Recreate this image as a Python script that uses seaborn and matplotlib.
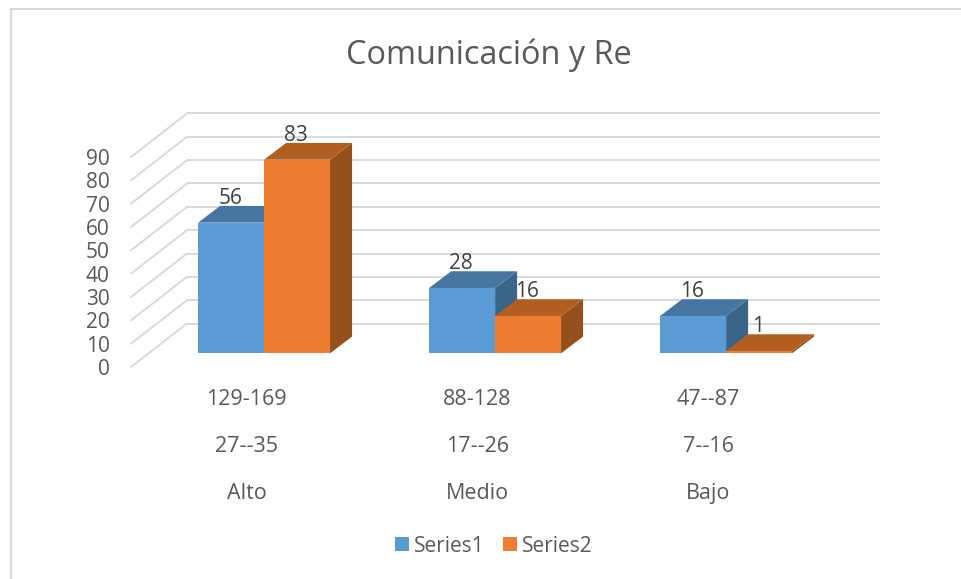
import matplotlib
matplotlib.use("Agg")
import matplotlib.pyplot as plt
import pandas as pd
import seaborn as sns
from matplotlib.lines import Line2D
from matplotlib.patches import Polygon
from matplotlib.transforms import Affine2D

rangos_a = ["129-169", "88-128", "47--87"]
rangos_b = ["27--35", "17--26", "7--16"]
niveles = ["Alto", "Medio", "Bajo"]
series1 = [56, 28, 16]
series2 = [83, 16, 1]
serie_names = ["Series1", "Series2"]
titulo = "Comunicación y Re"
y_ticks = list(range(0, 100, 10))

W, H = 962, 579
FONT = "Open Sans"
GREY = "#d9d9d9"
TXT = "#595959"
COLORS = ["#5B9BD5", "#ED7D31"]
TOPS = ["#4675A1", "#B35E21"]
SIDES = ["#3A6488", "#96501C"]

sns.set_theme(style="white")
plt.rcParams["font.family"] = [FONT, "DejaVu Sans"]

fig = plt.figure(figsize=(W / 100, H / 100), dpi=100, facecolor="white")
ax = fig.add_axes([131 / W, 1 - 367 / H, 693 / W, 210 / H])

cats = ["\n".join(t) for t in zip(rangos_a, rangos_b, niveles)]
df = pd.DataFrame({
    "cat": cats * 2,
    "serie": [serie_names[0]] * 3 + [serie_names[1]] * 3,
    "valor": series1 + series2,
})
sns.barplot(data=df, x="cat", y="valor", hue="serie", palette=COLORS,
            width=0.571, gap=0, saturation=1, dodge=True, ax=ax, linewidth=0)
ax.set_xlim(-0.5, 2.5)
ax.set_ylim(0, 90)
ax.set_xlabel("")
ax.set_ylabel("")
ax.set_yticks(y_ticks)
sns.despine(ax=ax, left=True, bottom=True, top=True, right=True)
ax.patch.set_alpha(0)
ax.tick_params(axis="y", length=0, pad=15.5, labelsize=15, labelcolor=TXT)
ax.tick_params(axis="x", length=0, pad=16, labelsize=15.5, labelcolor=TXT)
for lb in ax.get_xticklabels():
    lb.set_linespacing(2.62)

# Depth of the walls and of the bars, in pixels
WALL_DX, WALL_DY = 56, 43.5
BAR_OFF_X, BAR_OFF_Y = 17.6, 13.7
BAR_DX, BAR_DY = 22, 16.7

wall = ax.transData + Affine2D().translate(WALL_DX, WALL_DY)
for v in y_ticks:
    ax.plot([-0.5, 2.5], [v, v], transform=wall, color=GREY, lw=1.4,
            zorder=0.5, clip_on=False, solid_capstyle="butt")
    x0, y0 = ax.transData.transform((-0.5, v))
    ax.plot([x0, x0 + WALL_DX], [y0, y0 + WALL_DY], transform=None, color=GREY,
            lw=1.4, zorder=0.5, clip_on=False, solid_capstyle="round")

front = ax.transData + Affine2D().translate(BAR_OFF_X, BAR_OFF_Y)
z = 2
for si, cont in enumerate(ax.containers):
    for bar in cont:
        bx, bw, bh = bar.get_x(), bar.get_width(), bar.get_height()
        (xl, yb), (xr, yt) = front.transform([(bx, 0), (bx + bw, bh)])
        side = [(xr, yb), (xr + BAR_DX, yb + BAR_DY), (xr + BAR_DX, yt + BAR_DY), (xr, yt)]
        top = [(xl, yt), (xr, yt), (xr + BAR_DX, yt + BAR_DY), (xl + BAR_DX, yt + BAR_DY)]
        ax.add_patch(Polygon(side, closed=True, transform=None, facecolor=SIDES[si],
                             edgecolor="none", zorder=z, clip_on=False))
        ax.add_patch(Polygon(top, closed=True, transform=None, facecolor=TOPS[si],
                             edgecolor="none", zorder=z + 0.1, clip_on=False))
        bar.set_transform(front)
        bar.set_zorder(z + 0.2)
        bar.set_clip_on(False)
        ax.annotate(f"{bh:.0f}", xy=((xl + xr) / 2, yt), xycoords="figure pixels",
                    xytext=(-1, 24), textcoords="offset pixels", ha="center", va="center",
                    fontsize=15, color="#404040", zorder=50, annotation_clip=False)
        z += 1

handles, labels = ax.get_legend_handles_labels()
ax.legend(handles, labels, loc="center", bbox_to_anchor=(494 / W, 1 - 546 / H),
          bbox_transform=fig.transFigure, ncol=2, frameon=False, fontsize=15,
          labelcolor=TXT, handlelength=0.675, handleheight=0.675, handletextpad=0.22,
          columnspacing=0.89, borderpad=0, borderaxespad=0)

fig.text(489 / W, 1 - 55 / H, titulo, ha="center", va="center", fontsize=23.4, color=TXT)

fig.add_artist(Line2D([10.5 / W, 10.5 / W], [0, 1 - 9 / H], color=GREY, lw=1.5,
                      transform=fig.transFigure))
fig.add_artist(Line2D([10 / W, 1], [1 - 9 / H, 1 - 9 / H], color=GREY, lw=1.5,
                      transform=fig.transFigure))

fig.savefig("out.png", dpi=100, facecolor="white")
